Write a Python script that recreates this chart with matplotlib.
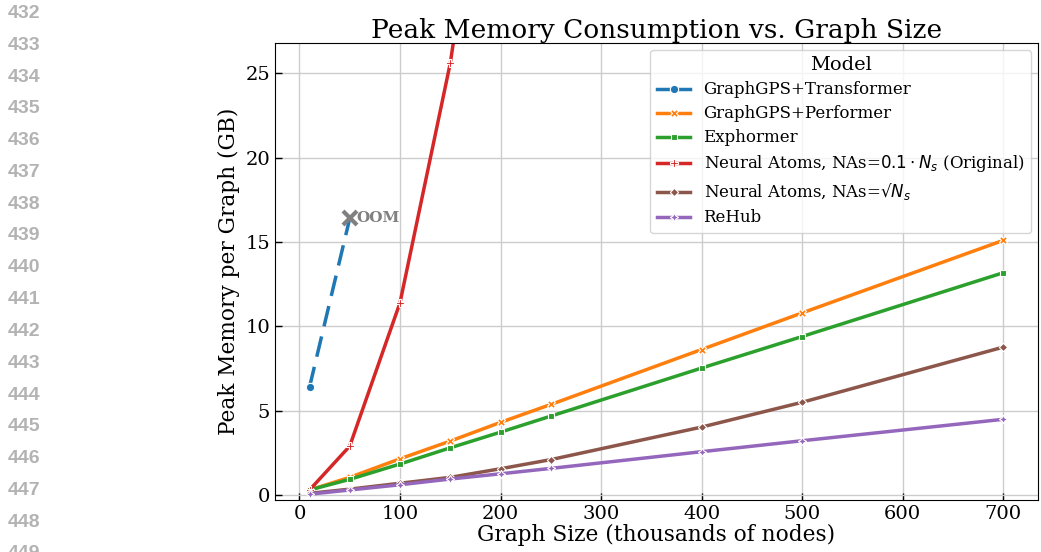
import matplotlib
matplotlib.use("Agg")
import matplotlib.pyplot as plt

# graph sizes (thousands of nodes)
sizes = [10, 50, 100, 150, 200, 250, 400, 500, 700]

# peak memory per graph (GB)
transformer_x = [10, 50]
transformer = [6.4, 16.4]
performer = [0.3, 1.05, 2.15, 3.2, 4.31, 5.37, 8.63, 10.8, 15.1]
exphormer = [0.3, 0.93, 1.84, 2.8, 3.73, 4.68, 7.53, 9.4, 13.18]
na_original_x = [10, 50, 100, 150, 200]
na_original = [0.3, 2.9, 11.4, 25.6, 45.5]
na_sqrt = [0.1, 0.35, 0.7, 1.05, 1.56, 2.1, 4.03, 5.5, 8.77]
rehub = [0.05, 0.3, 0.61, 0.95, 1.26, 1.58, 2.57, 3.22, 4.49]

line_numbers = list(range(432, 450))

plt.rcParams["font.family"] = "DejaVu Serif"
plt.rcParams["mathtext.fontset"] = "dejavusans"

fig = plt.figure(figsize=(10.41, 5.52), dpi=100)
ax = fig.add_axes([0.264, 0.094, 0.733, 0.828])

lw = 2.5
ms = 6
common = dict(lw=lw, ms=ms, mec="white", mew=0.8)

# GraphGPS+Transformer: dashed until it runs out of memory
ax.plot(transformer_x, transformer, color="#1f77b4", ls=(0, (6, 3)), lw=lw)
ax.plot(transformer_x[:1], transformer[:1], color="#1f77b4", marker="o",
        label="GraphGPS+Transformer", **common)
ax.plot(transformer_x[-1], transformer[-1], marker="x", color="gray",
        ms=10, mew=3, ls="none")
ax.text(transformer_x[-1] + 7, transformer[-1], "OOM", color="gray",
        fontsize=11, fontweight="bold", va="center", ha="left")

ax.plot(sizes, performer, color="#ff7f0e", marker="X",
        label="GraphGPS+Performer", **common)
ax.plot(sizes, exphormer, color="#2ca02c", marker=(4, 0, 45),
        label="Exphormer", **common)
ax.plot(na_original_x, na_original, color="#d62728", marker="P",
        label=r"Neural Atoms, NAs=$0.1 \cdot N_s$ (Original)", **common)
ax.plot(sizes, na_sqrt, color="#8c564b", marker=(4, 0, 0),
        label=r"Neural Atoms, NAs=√$N_s$", **common)
ax.plot(sizes, rehub, color="#9467bd", marker=(4, 1, 0),
        label="ReHub", **common)

ax.set_xlim(-24.5, 734.5)
ax.set_ylim(-0.3, 26.8)
ax.set_xticks(range(0, 701, 100))
ax.set_yticks(range(0, 26, 5))
ax.grid(True, color="#cccccc", lw=1)
ax.set_axisbelow(True)
ax.tick_params(direction="in", labelsize=14, length=5, width=1)

ax.set_title("Peak Memory Consumption vs. Graph Size", fontsize=19, pad=4)
ax.set_xlabel("Graph Size (thousands of nodes)", fontsize=15.6, labelpad=1)
ax.set_ylabel("Peak Memory per Graph (GB)", fontsize=15.6, labelpad=4)

leg = ax.legend(title="Model", loc="upper right", fontsize=12,
                title_fontsize=14, framealpha=0.8, labelspacing=0.42,
                borderaxespad=0.4)

# line numbers from the paper margin
for i, n in enumerate(line_numbers):
    fig.text(8 / 1041, 1 - (13.4 + 31.8 * i) / 552, str(n), color="#b3b3b3",
             fontsize=14, fontweight="bold", family="Liberation Sans",
             va="center", ha="left")

fig.savefig("out.png", dpi=100)
